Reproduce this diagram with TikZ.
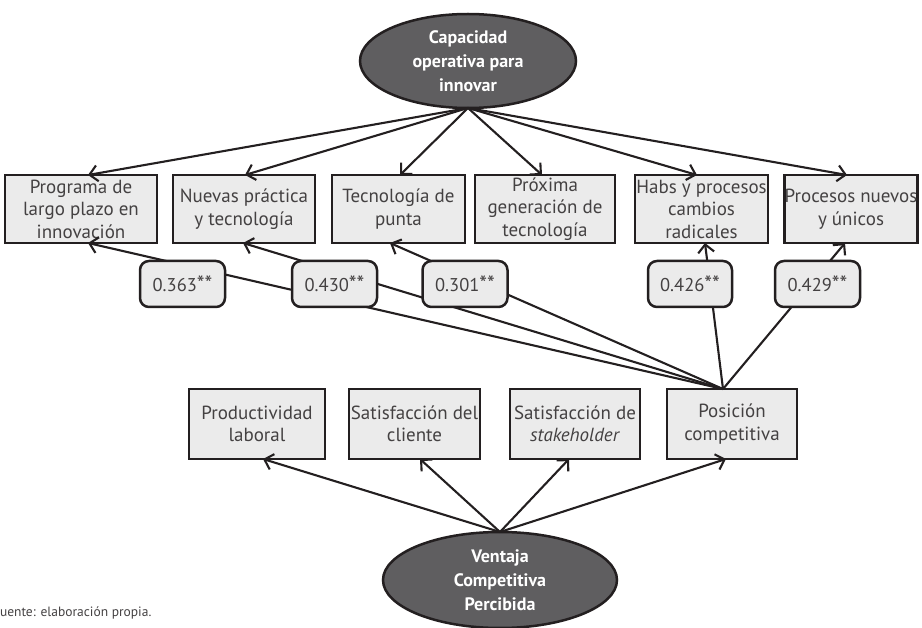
\documentclass[tikz,border=0pt]{standalone}
\usepackage{fontspec}
\setmainfont{PT Sans}
\usetikzlibrary{arrows.meta,shapes.geometric,calc}
\definecolor{ink}{HTML}{231F20}
\definecolor{boxgray}{HTML}{EBEBEB}
\definecolor{ovalgray}{HTML}{5F5E60}
% significance stars, drawn a little larger than the font's own
\newcommand{\sigstars}{{\fontsize{22}{22}\selectfont **}}
\begin{document}
\begin{tikzpicture}[x=1pt,y=-1pt,
  every node/.style={inner sep=0pt, outer sep=0pt},
  boxnode/.style={draw=ink, line width=2.5pt, fill=boxgray, text=ink!85, align=center,
    minimum height=68pt, font=\fontsize{19}{22.5}\selectfont},
  ovalnode/.style={ellipse, draw=ink, line width=2.5pt, fill=ovalgray, text=white, align=center,
    font=\fontsize{18}{24}\selectfont\bfseries},
  coefnode/.style={draw=ink, line width=2.5pt, fill=boxgray, rounded corners=9pt,
    minimum width=85pt, minimum height=46pt, font=\fontsize{18.5}{22}\selectfont, text=ink!85},
  link/.style={draw=ink, line width=2.1pt, -{Straight Barb[length=8pt,width=16pt,line width=2.1pt]}}
]
\useasboundingbox (0,0) rectangle (922,628);

% latent constructs
\node[ovalnode, minimum width=216pt, minimum height=94pt] (cap) at (468,61)
  {Capacidad\\operativa para\\innovar};
\node[ovalnode, minimum width=234pt, minimum height=96pt] (ven) at (500,580)
  {Ventaja\\Competitiva\\Percibida};

% indicators of innovation capacity
\node[boxnode, minimum width=152pt] (prog) at (81,209) {Programa de\\largo plazo en\\innovación};
\node[boxnode, minimum width=142pt] (nuev) at (244,209) {Nuevas práctica\\y tecnología};
\node[boxnode, minimum width=133pt] (tecn) at (398.5,209) {Tecnología de\\punta};
\node[boxnode, minimum width=140pt] (prox) at (545,209) {Próxima\\generación de\\tecnología};
\node[boxnode, minimum width=133pt] (habs) at (701.5,209) {Habs y procesos\\cambios\\radicales};
\node[boxnode, minimum width=132pt] (proc) at (851,209) {Procesos nuevos\\y únicos};

% indicators of competitive advantage
\node[boxnode, minimum width=136pt, minimum height=70pt] (prod) at (257,424) {Productividad\\laboral};
\node[boxnode, minimum width=131pt, minimum height=70pt] (scli) at (414.5,424) {Satisfacción del\\cliente};
\node[boxnode, minimum width=130pt, minimum height=70pt] (ssta) at (575,424) {Satisfacción de\\\textit{stakeholder}};
\node[boxnode, minimum width=130pt, minimum height=70pt] (posi) at (732,424) {Posición\\competitiva};

% loadings of the top construct
\draw[link] (cap.south) -- ([xshift=7pt]prog.north);
\draw[link] (cap.south) -- ([xshift=1pt]nuev.north);
\draw[link] (cap.south) -- ([xshift=1.5pt]tecn.north);
\draw[link] (cap.south) -- ([xshift=-3pt]prox.north);
\draw[link] (cap.south) -- ([xshift=-4.5pt]habs.north);
\draw[link] (cap.south) -- ([xshift=-4pt]proc.north);

% loadings of the bottom construct
\draw[link] (ven.north) -- ([xshift=6pt]prod.south);
\draw[link] (ven.north) -- ([xshift=5.5pt]scli.south);
\draw[link] (ven.north) -- ([xshift=-6pt]ssta.south);
\draw[link] (ven.north) -- ([xshift=-6pt]posi.south);

% correlations from competitive position
\coordinate (pin) at ([xshift=-9pt]posi.north);
\draw[link] (pin) -- ([xshift=7pt]prog.south);
\draw[link] (pin) -- ([xshift=-1pt]nuev.south);
\draw[link] (pin) -- ([xshift=-8.5pt]tecn.south);
\draw[link] (pin) -- ([xshift=3.5pt]habs.south);
\draw[link] (pin) -- ([xshift=-6pt]proc.south);

% coefficient labels
\node[coefnode] (c1) at (182.5,284) {0.363\sigstars};
\node[coefnode] (c2) at (334.5,284) {0.430\sigstars};
\node[coefnode] (c3) at (465,284) {0.301\sigstars};
\node[coefnode, minimum width=84pt] (c4) at (690,284) {0.426\sigstars};
\node[coefnode] (c5) at (817.5,284) {0.429\sigstars};

% source note
\node[anchor=base west, font=\fontsize{13.5}{16}\selectfont, text=ink!85] (src) at (0,616)
  {uente: elaboración propia.};
\end{tikzpicture}
\end{document}
